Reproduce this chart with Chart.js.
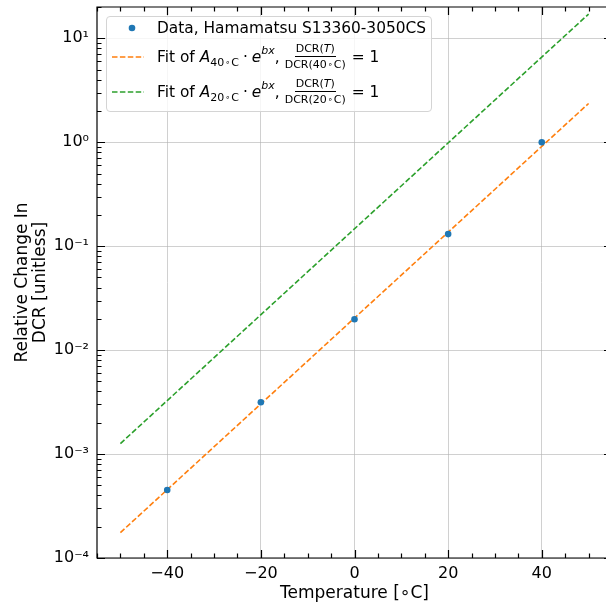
<!DOCTYPE html>
<html>
<head>
<meta charset="utf-8">
<script src="https://cdn.jsdelivr.net/npm/chart.js@4.4.1/dist/chart.umd.min.js"></script>
<style>
html,body{margin:0;padding:0;overflow:hidden;background:#fff;}
#wrap{position:relative;width:606px;height:604px;overflow:hidden;}
#c{position:absolute;left:0;top:0;}
#legend{position:absolute;left:106px;top:16px;width:324px;height:94px;border:1px solid #d4d4d4;border-radius:4px;background:rgba(255,255,255,0.8);font-family:"DejaVu Sans";font-size:15.4px;color:#000;box-sizing:content-box;}
.row{position:absolute;left:0;height:34px;display:flex;align-items:center;white-space:nowrap;}
.key{position:absolute;left:4px;top:0;width:34px;height:34px;}
.txt{position:absolute;left:50px;top:0;height:34px;display:flex;align-items:center;white-space:nowrap;}
.it{font-style:italic;}
.sub{font-size:11px;position:relative;top:5px;}
.sup{font-size:11px;position:relative;top:-7px;}
.frac{display:inline-flex;flex-direction:column;align-items:center;font-size:11px;line-height:13px;margin:0 6px 0 5px;position:relative;top:0px;}
.frac .num{border-bottom:1px solid #000;padding:0 1px 1px 1px;}
.frac .den{padding:1px 0 0 0;}
.ring{font-size:8px;position:relative;top:-1px;margin:0 1px 0 1px;}
.sp{display:inline-block;width:4px;}
</style>
</head>
<body>
<div id="wrap">
<canvas id="c" width="620" height="604" style="width:620px;height:604px"></canvas>
<div id="legend">
  <div class="row" style="top:-6px;">
    <svg class="key" viewBox="0 0 34 34"><circle cx="21" cy="17" r="3.3" fill="#1f77b4"/></svg>
    <div class="txt">Data, Hamamatsu S13360-3050CS</div>
  </div>
  <div class="row" style="top:23px;">
    <svg class="key" viewBox="0 0 34 34"><line x1="1" y1="17" x2="33" y2="17" stroke="#ff7f0e" stroke-width="1.6" stroke-dasharray="5.5 2.4"/></svg>
    <div class="txt">Fit of&nbsp;<span class="it">A</span><span class="sub">40<span class="ring">∘</span>C</span><span class="sp"></span>·<span class="sp"></span><span class="it">e</span><span class="sup it">bx</span>,<span class="frac"><span class="num">DCR(<span class="it">T</span>)</span><span class="den">DCR(40<span class="ring">∘</span>C)</span></span>= 1</div>
  </div>
  <div class="row" style="top:58px;">
    <svg class="key" viewBox="0 0 34 34"><line x1="1" y1="17" x2="33" y2="17" stroke="#2ca02c" stroke-width="1.6" stroke-dasharray="5.5 2.4"/></svg>
    <div class="txt">Fit of&nbsp;<span class="it">A</span><span class="sub">20<span class="ring">∘</span>C</span><span class="sp"></span>·<span class="sp"></span><span class="it">e</span><span class="sup it">bx</span>,<span class="frac"><span class="num">DCR(<span class="it">T</span>)</span><span class="den">DCR(20<span class="ring">∘</span>C)</span></span>= 1</div>
  </div>
</div>
</div>
<script>
// ---- data ----
const temperatures = [-40, -20, 0, 20, 40];
const dcrRelative = [4.51e-4, 3.15e-3, 0.0198, 0.1306, 1.0];
const fit40X = [-50, 50];
const fit40Y = [1.755e-4, 2.36];
const fit20X = [-50, 50];
const fit20Y = [1.262e-3, 17.1];
const xTickValues = [-40, -20, 0, 20, 40];
const yTickValues = [1e-4, 1e-3, 1e-2, 1e-1, 1, 10];
const xLimits = [-55, 55];
const yLimits = [1e-4, 20];
const seriesNames = ['Data, Hamamatsu S13360-3050CS', 'Fit of A40∘C·e^bx, DCR(T)/DCR(40∘C) = 1', 'Fit of A20∘C·e^bx, DCR(T)/DCR(20∘C) = 1'];

const supMap = {'-':'⁻','0':'⁰','1':'¹','2':'²','3':'³','4':'⁴','5':'⁵','6':'⁶','7':'⁷','8':'⁸','9':'⁹'};
function supStr(n){ return String(n).split('').map(c=>supMap[c]).join(''); }

const frameTicks = {
  id: 'frameTicks',
  afterDraw(chart){
    const {ctx, chartArea: a, scales: {x, y}} = chart;
    ctx.save();
    ctx.strokeStyle = '#000';
    ctx.lineWidth = 1.2;
    ctx.beginPath();
    ctx.rect(a.left, a.top, a.right - a.left, a.bottom - a.top);
    ctx.stroke();
    const majL = 8, minL = 4.5;
    const xMinor = [];
    for (let v = xLimits[0]; v <= xLimits[1]; v += 5) if (!xTickValues.includes(v)) xMinor.push(v);
    const drawX = (vals, len) => {
      vals.forEach(v => {
        const px = Math.round(x.getPixelForValue(v)) + 0.5;
        ctx.beginPath();
        ctx.moveTo(px, a.bottom); ctx.lineTo(px, a.bottom - len);
        ctx.moveTo(px, a.top); ctx.lineTo(px, a.top + len);
        ctx.stroke();
      });
    };
    drawX(xTickValues, majL); drawX(xMinor, minL);
    const yMinor = [];
    for (let d = -4; d <= 1; d++) for (let m = 2; m <= 9; m++) { const v = m * Math.pow(10, d); if (v <= yLimits[1]) yMinor.push(v); }
    const drawY = (vals, len) => {
      vals.forEach(v => {
        const py = Math.round(y.getPixelForValue(v)) + 0.5;
        ctx.beginPath();
        ctx.moveTo(a.left, py); ctx.lineTo(a.left + len, py);
        ctx.moveTo(a.right, py); ctx.lineTo(a.right - len, py);
        ctx.stroke();
      });
    };
    drawY(yTickValues, majL); drawY(yMinor, minL);
    ctx.restore();
  }
};

const font16 = {family: 'DejaVu Sans', size: 16};
new Chart(document.getElementById('c'), {
  type: 'scatter',
  data: {
    datasets: [
      {label: seriesNames[0], data: temperatures.map((t,i)=>({x:t, y:dcrRelative[i]})), backgroundColor: '#1f77b4', borderColor: '#1f77b4', pointRadius: 3.3, borderWidth: 0, order: 0},
      {label: seriesNames[1], data: fit40X.map((t,i)=>({x:t, y:fit40Y[i]})), showLine: true, borderColor: '#ff7f0e', borderWidth: 1.6, borderDash: [5.5, 2.4], pointRadius: 0, order: 1},
      {label: seriesNames[2], data: fit20X.map((t,i)=>({x:t, y:fit20Y[i]})), showLine: true, borderColor: '#2ca02c', borderWidth: 1.6, borderDash: [5.5, 2.4], pointRadius: 0, order: 2}
    ]
  },
  options: {
    responsive: false,
    animation: false,
    devicePixelRatio: 1,
    layout: {padding: {top: 7, right: 8, bottom: 0, left: 0}},
    plugins: {legend: {display: false}, tooltip: {enabled: false}},
    scales: {
      x: {
        type: 'linear', min: xLimits[0], max: xLimits[1],
        afterBuildTicks: s => { s.ticks = xTickValues.map(v => ({value: v})); },
        afterFit: s => { s.height = 46; s.paddingLeft = 0; s.paddingRight = 0; },
        grid: {color: 'rgba(176,176,176,0.6)', lineWidth: 1, drawTicks: false},
        border: {display: false},
        ticks: {font: font16, color: '#000', padding: 6, maxRotation: 0,
          callback: v => v < 0 ? '\u2212' + Math.abs(v) : String(v)},
        title: {display: true, text: 'Temperature [∘C]', font: {family: 'DejaVu Sans', size: 17, lineHeight: 1.2}, color: '#000', padding: {top: 0, bottom: 0}}
      },
      y: {
        type: 'logarithmic', min: yLimits[0], max: yLimits[1],
        afterBuildTicks: s => { s.ticks = yTickValues.map(v => ({value: v, major: true})); },
        afterFit: s => { s.width = 97; s.paddingTop = 0; s.paddingBottom = 0; },
        grid: {color: 'rgba(176,176,176,0.6)', lineWidth: 1, drawTicks: false},
        border: {display: false},
        ticks: {font: font16, color: '#000', padding: 8,
          callback: v => '10' + supStr(Math.round(Math.log10(v)))},
        title: {display: true, text: ['Relative Change In', 'DCR [unitless]'], font: {family: 'DejaVu Sans', size: 17, lineHeight: 1.05}, color: '#000', padding: {top: 14, bottom: 0}}
      }
    }
  },
  plugins: [frameTicks]
});
</script>
</body>
</html>
